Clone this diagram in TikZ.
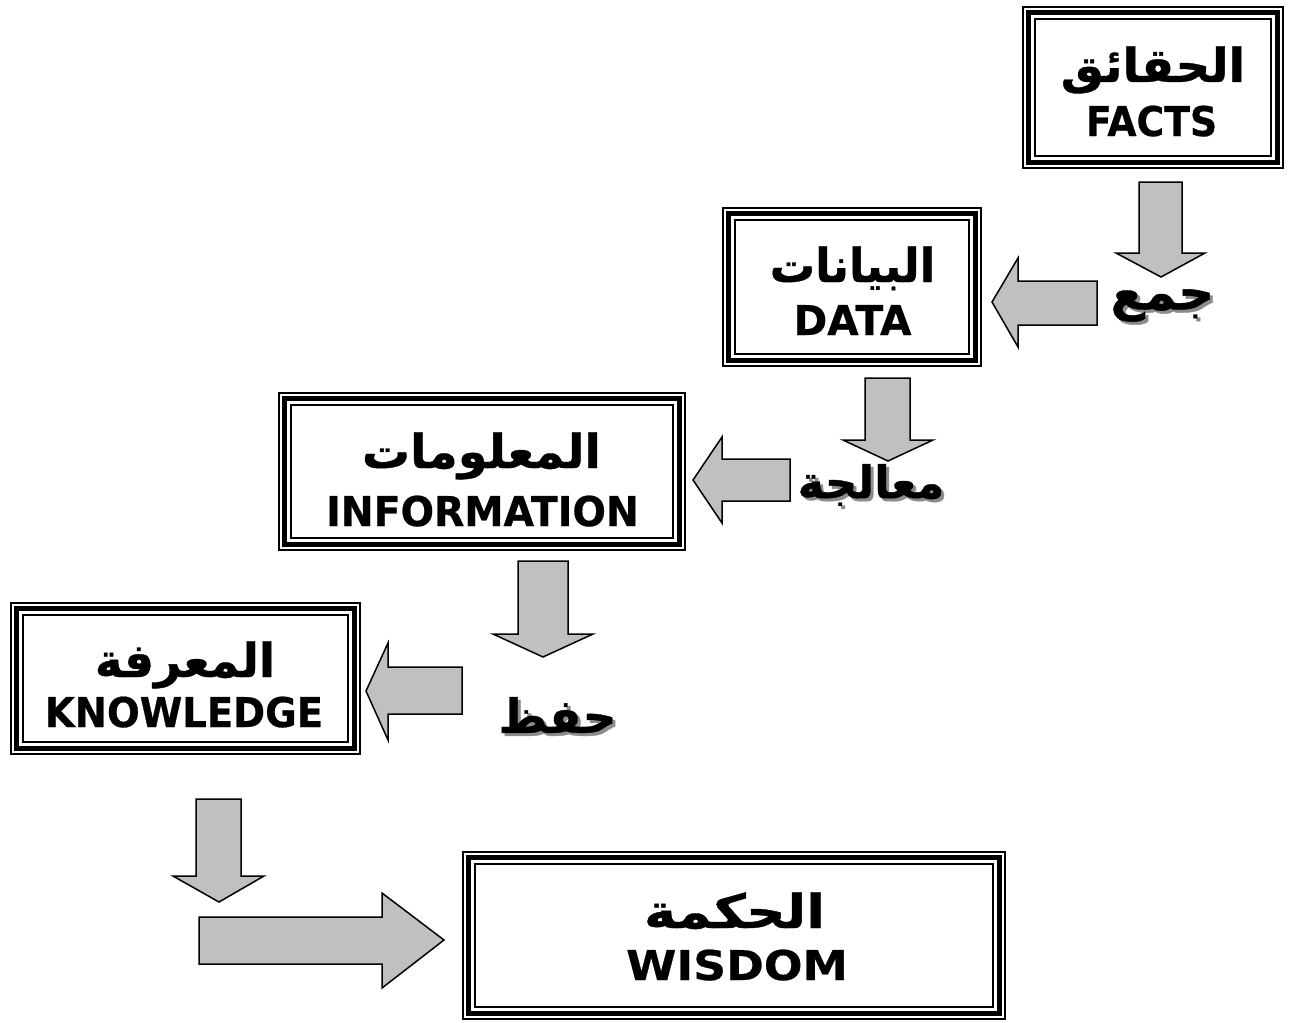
\documentclass[tikz,border=0pt]{standalone}
\usepackage{fontspec}
\setmainfont{DejaVu Sans}[BoldFeatures={FakeBold=0.6}]
\newfontfamily\arabicfont[Script=Arabic, BoldFeatures={FakeBold=0.8}]{DejaVu Sans}
\TeXXeTstate=1
\definecolor{arrowgray}{RGB}{192,192,192}
\definecolor{shadowgray}{RGB}{140,140,140}
\newcommand{\frameinner}[1]{%
  \draw[line width=5pt] ([shift={(5.5,5.5)}]#1.north west) rectangle ([shift={(-5.5,-5.5)}]#1.south east);
  \draw[line width=1.6pt] ([shift={(12,12)}]#1.north west) rectangle ([shift={(-12,-12)}]#1.south east);}
\newcommand{\xs}[2]{\scalebox{#1}[1]{#2}}
\tikzset{
  tribox/.style={draw, line width=2pt, outer sep=0pt, inner sep=0pt},
  artitle/.style={anchor=base, inner sep=0pt, font=\fontsize{47}{54}\selectfont\arabicfont\bfseries},
  entitle/.style={anchor=base, inner sep=0pt, font=\fontsize{41}{48}\selectfont\bfseries},
  blk/.style={fill=arrowgray, draw=black, line width=1.5pt, line join=miter},
  lbl/.style={inner sep=0pt, font=\fontsize{#1}{#1}\selectfont\arabicfont\bfseries},
  lblshadow/.style={lbl=#1, text=shadowgray}
}
\begin{document}
\begin{tikzpicture}[x=1pt, y=-1pt]
\useasboundingbox (0,0) rectangle (1289,1022);
\fill[white] (0,0) rectangle (1289,1022);
% boxes
\node[tribox, minimum width=260pt, minimum height=161pt] (facts) at (1153,87.5) {};
\node[tribox, minimum width=258pt, minimum height=158pt] (data) at (852,287) {};
\node[tribox, minimum width=406pt, minimum height=157pt] (info) at (482,471.5) {};
\node[tribox, minimum width=349pt, minimum height=151pt] (know) at (185.5,678.5) {};
\node[tribox, minimum width=542pt, minimum height=167pt] (wis) at (734,935.5) {};
\frameinner{facts}
\frameinner{data}
\frameinner{info}
\frameinner{know}
\frameinner{wis}
% titles
\node[artitle] (factsar) at (1153,82) {\xs{1.03}{\beginR الحقائق\endR}};
\node[entitle] (factsen) at (1151.5,136) {\xs{0.92}{FACTS}};
\node[artitle] (dataar) at (852.5,282) {\xs{0.96}{\beginR البيانات\endR}};
\node[entitle] (dataen) at (852.5,335) {\xs{0.99}{DATA}};
\node[artitle] (infoar) at (481.5,468) {\xs{1.02}{\beginR المعلومات\endR}};
\node[entitle] (infoen) at (482.5,526) {\xs{0.96}{INFORMATION}};
\node[artitle] (knowar) at (185,677) {\xs{1.0}{\beginR المعرفة\endR}};
\node[entitle] (knowen) at (184,727) {\xs{0.94}{KNOWLEDGE}};
\node[artitle] (wisar) at (734.5,928) {\xs{1.17}{\beginR الحكمة\endR}};
\node[entitle] (wisen) at (737,980) {\xs{1.11}{WISDOM}};
% block arrows
\draw[blk] (1139,182) -- (1182,182) -- (1182,253) -- (1205,253) -- (1161,277) -- (1116,253) -- (1139,253) -- cycle;
\draw[blk] (1097,281) -- (1018,281) -- (1018,258) -- (992,302) -- (1018,347) -- (1018,325) -- (1097,325) -- cycle;
\draw[blk] (865,378) -- (910,378) -- (910,440) -- (933,440) -- (888,461) -- (843,440) -- (865,440) -- cycle;
\draw[blk] (790,459) -- (722,459) -- (722,437) -- (693,480) -- (722,523) -- (722,501) -- (790,501) -- cycle;
\draw[blk] (518,561) -- (568,561) -- (568,634) -- (593,634) -- (543,657) -- (493,634) -- (518,634) -- cycle;
\draw[blk] (462,667) -- (388,667) -- (388,643) -- (366,691) -- (388,740) -- (388,714) -- (462,714) -- cycle;
\draw[blk] (196,799) -- (241,799) -- (241,876) -- (264,876) -- (219,902) -- (173,876) -- (196,876) -- cycle;
\draw[blk] (199,917) -- (382,917) -- (382,893) -- (444,940) -- (382,988) -- (382,964) -- (199,964) -- cycle;
% labels with shadow
\node[lblshadow=50] (l1s) at (1165.5,308.5) {\beginR جمع\endR};
\node[lbl=50] (l1) at (1162.5,305.5) {\beginR جمع\endR};
\node[lblshadow=45] (l2s) at (874,488) {\beginR معالجة\endR};
\node[lbl=45] (l2) at (871,485) {\beginR معالجة\endR};
\node[lblshadow=47] (l3s) at (560.5,718) {\beginR حفظ\endR};
\node[lbl=47] (l3) at (557.5,715) {\beginR حفظ\endR};
\end{tikzpicture}
\end{document}
